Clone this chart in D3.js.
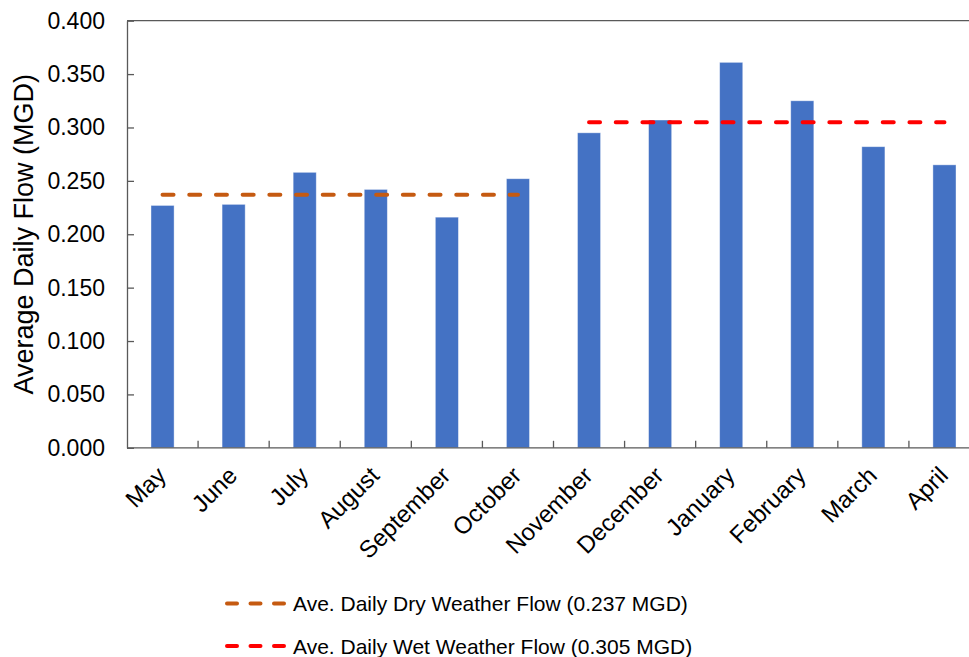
<!DOCTYPE html>
<html>
<head>
<meta charset="utf-8">
<script src="https://cdn.jsdelivr.net/npm/d3@7/dist/d3.min.js"></script>
<style>
  html, body { margin: 0; padding: 0; background: #fff; }
  svg { display: block; font-family: "Liberation Sans", Arial, sans-serif; }
</style>
</head>
<body>
<svg id="chart" width="969" height="657"></svg>
<script>
const months = ["May","June","July","August","September","October","November","December","January","February","March","April"];
const flows = [0.227, 0.228, 0.258, 0.242, 0.216, 0.252, 0.295, 0.307, 0.361, 0.325, 0.282, 0.265];
const dryFlow = 0.237;
const wetFlow = 0.305;
const dryMonths = ["May","June","July","August","September","October"];
const wetMonths = ["November","December","January","February","March","April"];
const yTicks = [0, 0.05, 0.1, 0.15, 0.2, 0.25, 0.3, 0.35, 0.4];
const yTitle = "Average Daily Flow (MGD)";
const legendLabels = ["Ave. Daily Dry Weather Flow (0.237 MGD)", "Ave. Daily Wet Weather Flow (0.305 MGD)"];

const barColor = "#4472C4", dryColor = "#C55A11", wetColor = "#FF0000", axisColor = "#595959";

const svg = d3.select("#chart");
const pLeft = 127, pRight = 980, pTop = 20.7, pBottom = 447.8;

const xc = d3.scaleBand().domain(months).range([pLeft, pRight]).padding(0);
const xb = d3.scaleBand().domain(months).range([pLeft, pRight]).paddingInner(0.675).paddingOuter(0.3375);
const y = d3.scaleLinear().domain([0, 0.4]).range([pBottom, pTop]);

// Bars
svg.append("g").selectAll("rect").data(months).join("rect")
  .attr("x", d => xb(d))
  .attr("y", (d, i) => y(flows[i]))
  .attr("width", xb.bandwidth())
  .attr("height", (d, i) => y(0) - y(flows[i]))
  .attr("fill", barColor)
  .attr("stroke", "#ffffff")
  .attr("stroke-opacity", 0.5)
  .attr("stroke-width", 0.8);

// Top border
svg.append("line").attr("x1", pLeft).attr("x2", pRight).attr("y1", y(0.4)).attr("y2", y(0.4))
  .attr("stroke", axisColor).attr("stroke-width", 1.3);

// Y axis
const yAxis = svg.append("g").attr("transform", `translate(${pLeft},0)`)
  .call(d3.axisLeft(y).tickValues(yTicks).tickFormat(d3.format(".3f")).tickSizeInner(-7).tickSizeOuter(0).tickPadding(22));
yAxis.select(".domain").attr("stroke", axisColor).attr("stroke-width", 1.3);
yAxis.selectAll(".tick line").attr("stroke", axisColor).attr("stroke-width", 1.3);
yAxis.selectAll(".tick text").attr("font-size", 23).attr("fill", "#000").attr("font-family", "Liberation Sans, Arial, sans-serif");

// X axis (baseline + category boundary ticks)
svg.append("line").attr("x1", pLeft).attr("x2", pRight).attr("y1", y(0)).attr("y2", y(0))
  .attr("stroke", axisColor).attr("stroke-width", 1.3);
svg.append("g").selectAll("line").data(months.slice(1)).join("line")
  .attr("x1", d => xc(d)).attr("x2", d => xc(d))
  .attr("y1", y(0)).attr("y2", y(0) - 7)
  .attr("stroke", axisColor).attr("stroke-width", 1.3);

// X labels
svg.append("g").selectAll("text").data(months).join("text")
  .attr("transform", d => `translate(${xc(d) + xc.bandwidth() / 2 + 5},477) rotate(-45)`)
  .attr("text-anchor", "end")
  .attr("font-size", 24)
  .attr("fill", "#000")
  .text(d => d);

// Y title
svg.append("text")
  .attr("transform", `translate(32.5,${(pTop + pBottom) / 2}) rotate(-90)`)
  .attr("text-anchor", "middle")
  .attr("font-size", 27)
  .attr("fill", "#000")
  .text(yTitle);

// Average lines
const center = m => xc(m) + xc.bandwidth() / 2;
function avgLine(ms, val, color) {
  svg.append("line")
    .attr("x1", center(ms[0])).attr("x2", center(ms[ms.length - 1]))
    .attr("y1", y(val)).attr("y2", y(val))
    .attr("stroke", color).attr("stroke-width", 4)
    .attr("stroke-linecap", "round")
    .attr("stroke-dasharray", "11 15.7");
}
avgLine(dryMonths, dryFlow, dryColor);
avgLine(wetMonths, wetFlow, wetColor);

// Legend
const legend = [
  { label: legendLabels[0], color: dryColor, cy: 603.5 },
  { label: legendLabels[1], color: wetColor, cy: 646 }
];
const lg = svg.append("g");
legend.forEach(l => {
  lg.append("line").attr("x1", 227).attr("x2", 284).attr("y1", l.cy).attr("y2", l.cy)
    .attr("stroke", l.color).attr("stroke-width", 4).attr("stroke-linecap", "round")
    .attr("stroke-dasharray", "10 13.5");
  lg.append("text").attr("x", 293).attr("y", l.cy).attr("dy", "0.36em")
    .attr("font-size", 21).attr("fill", "#000").text(l.label);
});
</script>
</body>
</html>
